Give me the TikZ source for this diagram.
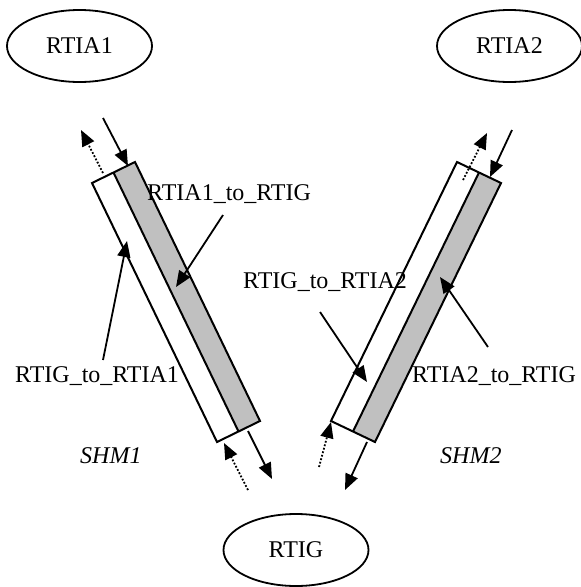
\documentclass[tikz,border=0pt]{standalone}
\usepackage{fontspec}
\setmainfont{Liberation Serif}
\usetikzlibrary{arrows.meta,shapes.geometric}
\definecolor{bargray}{HTML}{C0C0C0}
\begin{document}
\begin{tikzpicture}[x=1pt,y=-1pt,
  ell/.style={draw,line width=1.8pt,ellipse,minimum width=145pt,minimum height=72pt,inner sep=0pt,font=\fontsize{24}{28}\selectfont},
  lbl/.style={inner sep=0pt,font=\fontsize{24}{28}\selectfont},
  shm/.style={inner sep=0pt,font=\fontsize{24}{28}\selectfont\itshape},
  barline/.style={line width=2pt,line join=miter},
  arr/.style={line width=1.8pt,-{Triangle[length=16pt,width=13pt]}},
  darr/.style={line width=1.8pt,dash pattern=on 1.8pt off 1.8pt,-{Triangle[length=16pt,width=13pt]}}
]
\useasboundingbox (0,0) rectangle (581,587);
% ellipses
\node[ell] (rtia1) at (79.5,46) {RTIA1};
\node[ell] (rtia2) at (509.5,46) {RTIA2};
\node[ell] (rtig) at (296,550) {RTIG};
% left bar
\coordinate (la) at (92,183);
\coordinate (lm) at (113.5,172.5);
\coordinate (lb) at (135,162);
\coordinate (lc) at (260,421);
\coordinate (ln) at (238.5,431.5);
\coordinate (ld) at (217,442);
\fill[white] (la) -- (lm) -- (ln) -- (ld) -- cycle;
\fill[bargray] (lm) -- (lb) -- (lc) -- (ln) -- cycle;
\draw[barline] (la) -- (lb) -- (lc) -- (ld) -- cycle;
\draw[barline] (lm) -- (ln);
% right bar
\coordinate (ra) at (457,162);
\coordinate (rm) at (479,172.5);
\coordinate (rb) at (501,183);
\coordinate (rc) at (375,442);
\coordinate (rn) at (353,431.5);
\coordinate (rd) at (331,421);
\fill[white] (ra) -- (rm) -- (rn) -- (rd) -- cycle;
\fill[bargray] (rm) -- (rb) -- (rc) -- (rn) -- cycle;
\draw[barline] (ra) -- (rb) -- (rc) -- (rd) -- cycle;
\draw[barline] (rm) -- (rn);
% arrows at ends, left bar
\coordinate (l1s) at (103,118); \coordinate (l1e) at (128,166);
\coordinate (l2s) at (103,173); \coordinate (l2e) at (81,130);
\coordinate (l3s) at (248,490); \coordinate (l3e) at (224,443);
\coordinate (l4s) at (248,431); \coordinate (l4e) at (272,479);
\draw[arr] (l1s) -- (l1e);
\draw[darr] (l2s) -- (l2e);
\draw[darr] (l3s) -- (l3e);
\draw[arr] (l4s) -- (l4e);
% arrows at ends, right bar
\coordinate (r1s) at (512,130); \coordinate (r1e) at (490,177);
\coordinate (r2s) at (463,180); \coordinate (r2e) at (487,133);
\coordinate (r3s) at (319,467); \coordinate (r3e) at (331,422);
\coordinate (r4s) at (367,442); \coordinate (r4e) at (345,490);
\draw[arr] (r1s) -- (r1e);
\draw[darr] (r2s) -- (r2e);
\draw[darr] (r3s) -- (r3e);
\draw[arr] (r4s) -- (r4e);
% labels
\node[lbl,anchor=base west] (t1) at (147,200) {RTIA1\_to\_RTIG};
\node[lbl,anchor=base west] (t2) at (15,382) {RTIG\_to\_RTIA1};
\node[lbl,anchor=base west] (t3) at (243,288) {RTIG\_to\_RTIA2};
\node[lbl,anchor=base west] (t4) at (412,382) {RTIA2\_to\_RTIG};
\node[shm,anchor=base west] (s1) at (80,463) {SHM1};
\node[shm,anchor=base west] (s2) at (440,463) {SHM2};
% label pointers
\coordinate (p1s) at (223,215); \coordinate (p1e) at (176,287);
\coordinate (p2s) at (103,360); \coordinate (p2e) at (127,241);
\coordinate (p3s) at (320,312); \coordinate (p3e) at (367,382);
\coordinate (p4s) at (488,347); \coordinate (p4e) at (440,277);
\draw[arr] (p1s) -- (p1e);
\draw[arr] (p2s) -- (p2e);
\draw[arr] (p3s) -- (p3e);
\draw[arr] (p4s) -- (p4e);
\end{tikzpicture}
\end{document}
